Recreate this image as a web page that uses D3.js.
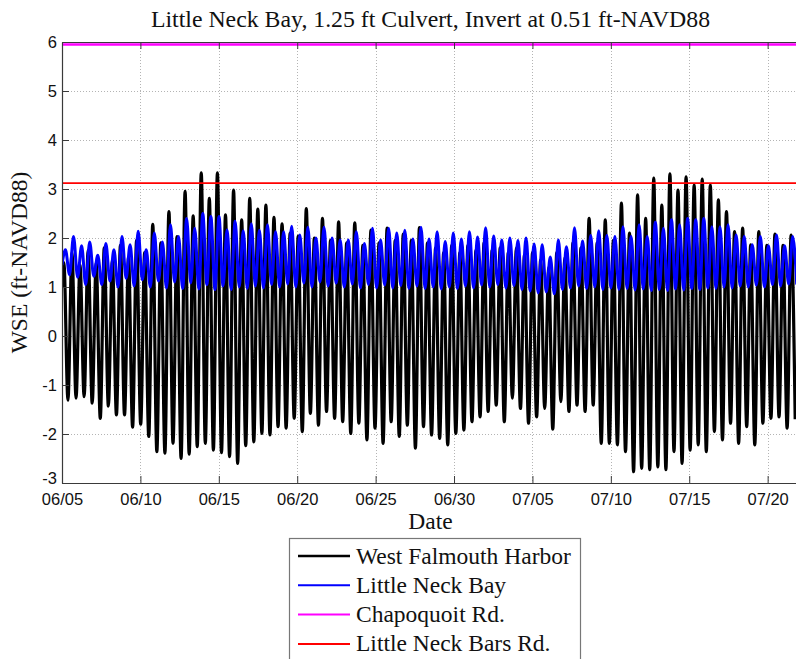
<!DOCTYPE html>
<html>
<head>
<meta charset="utf-8">
<script src="https://cdn.jsdelivr.net/npm/d3@7"></script>
<style>
  body { margin: 0; background: #fff; }
  svg { display: block; }
  .tick text { font-family: "Liberation Sans", Arial, sans-serif; font-size: 16.5px; fill: #111; }
</style>
</head>
<body>
<script>
// ---- Data -------------------------------------------------------------
// Record start and tidal cycle spacing (days)
const recordStart = "2010-06-05T00:00:00Z";
const cycleDays = 0.5153;

// West Falmouth Harbor: successive high and low water levels (ft-NAVD88)
const wfhStart = 1.0;
const wfhHigh = [
  1.5, 1.7, 1.45, 1.75, 1.5, 1.8, 1.55, 1.85, 1.6, 1.95, 1.7, 2.28, 1.9,
  2.54, 2.03, 2.95, 2.45, 3.33, 2.81, 3.33, 2.47, 2.98, 2.37, 2.81, 2.59, 2.67,
  2.42, 2.29, 2.1, 2.04, 2.6, 2.0, 2.4, 1.95, 2.33, 1.9, 2.31, 1.85, 2.16, 1.9,
  2.2, 1.95, 2.08, 1.95, 2.21, 1.9,
  1.8, 1.7, 1.85, 1.7, 1.85, 1.75, 1.9, 1.75, 1.8, 1.7, 1.8, 1.65, 1.7, 1.55,
  1.4, 1.7, 1.6, 1.9, 1.8,
  2.4, 1.9, 2.37, 1.95, 2.71, 2.1, 2.88, 2.4, 3.22, 2.67, 3.31, 2.98, 3.25, 3.08,
  3.2, 3.08, 2.78, 2.54, 2.13, 2.2, 1.86, 2.13, 1.85, 2.08, 1.85, 2.06
];
const wfhLow = [
  -1.31, -1.27, -1.24, -1.37, -1.68, -1.43, -1.61, -1.61, -1.86, -1.8,
  -2.05, -2.36, -2.39, -2.19, -2.5, -2.41, -2.26, -2.19, -2.33, -2.38,
  -2.46, -2.6, -2.24, -2.16, -1.99, -2.02, -1.85, -1.88, -1.68, -1.95,
  -1.58, -1.82, -1.54, -1.68, -1.75, -1.99, -1.78, -2.12, -1.88, -2.19,
  -1.75, -2.05, -1.82, -2.29, -1.85, -2.02, -2.09, -2.22, -1.99, -1.92,
  -1.75, -1.65, -1.54, -1.41, -1.75, -1.27, -1.48, -1.78, -1.65, -1.48,
  -1.9, -1.34, -1.54, -1.41, -1.54, -1.41, -2.19, -2.19, -2.22, -2.36,
  -2.77, -2.7, -2.73, -2.67, -2.73, -2.36, -2.6, -2.33, -2.22, -2.36,
  -1.95, -2.12, -1.78, -2.19, -1.85, -2.22, -1.78, -1.68, -1.65, -1.88,
  -1.7
];

// Little Neck Bay: successive high and low water levels (ft-NAVD88)
const lnbStart = 1.45;
const lnbHigh = [
  1.76, 2.03, 1.84, 1.92, 1.65, 1.89, 1.76, 2.03, 1.86, 2.14, 1.76, 2.1, 1.92,
  2.27, 2.03, 2.4, 2.2, 2.5, 2.44, 2.44, 2.17, 2.34, 2.15,
  2.29, 2.16, 2.27, 2.13, 2.13, 2.24, 2.06, 2.22, 2.0, 2.22, 2.0, 1.96, 1.96,
  2.13, 1.89, 2.2, 1.96, 2.2, 2.1, 2.16, 1.98, 2.22, 1.98,
  2.13, 1.93, 2.1, 1.98, 2.13, 2.02, 2.21, 2.04, 1.96, 2.0, 1.95, 2.0, 1.88,
  1.86, 1.61, 1.96, 1.82, 2.21, 1.94, 2.05, 2.15, 2.05,
  2.03, 2.23, 2.03, 2.27, 2.03, 2.32, 2.2, 2.37, 2.27, 2.4, 2.37, 2.4, 2.23,
  2.23, 2.27, 2.06, 2.03, 1.86, 2.03, 1.84, 2.06, 1.84, 2.03
];
const lnbLow = [
  1.25, 1.2, 1.05, 1.22, 1.05, 1.12, 1.0, 1.18, 1.02, 1.15,
  1.0, 1.12, 0.98, 1.1, 0.97, 1.08, 0.96, 1.05, 0.95, 1.02,
  0.95, 1.0, 0.97, 1.02, 0.98, 1.05, 1.0, 1.06, 1.0, 1.08,
  1.0, 1.1, 1.02, 1.08, 1.0, 1.06, 0.98, 1.05, 0.98, 1.04,
  0.98, 1.03, 0.97, 1.02, 0.97, 1.0, 0.96, 1.0, 0.97, 1.02,
  0.98, 1.04, 1.0, 1.05, 0.98, 1.03, 0.95, 0.92, 0.88, 0.9,
  0.86, 0.95, 0.98, 1.02, 0.97, 1.0, 0.95, 0.98, 0.95, 0.97,
  0.94, 0.96, 0.93, 0.95, 0.93, 0.96, 0.94, 0.97, 0.95, 0.98,
  0.97, 1.0, 0.98, 1.02, 1.0, 1.04, 1.0, 1.05, 1.02, 1.06,
  1.05
];

// Road elevations (ft-NAVD88)
const chapoquoitRd = 5.95;
const littleNeckBarsRd = 3.12;

// Axis ticks
const dateTicks = ["06/05", "06/10", "06/15", "06/20", "06/25", "06/30", "07/05", "07/10", "07/15", "07/20"];
const wseTicks = [-3, -2, -1, 0, 1, 2, 3, 4, 5, 6];

const seriesNames = ["West Falmouth Harbor", "Little Neck Bay", "Chapoquoit Rd.", "Little Neck Bars Rd."];
const seriesColors = ["#000000", "#0000ff", "#ff00ff", "#ff0000"];

// ---- Layout -----------------------------------------------------------
const W = 796, H = 659;
const plotL = 62, plotR = 799, plotT = 42, plotB = 483;

const t0 = new Date(recordStart);
const dayMs = 864e5;
const atDay = d => new Date(t0.getTime() + d * dayMs);
const parseTick = s => new Date(Date.UTC(2010, +s.slice(0, 2) - 1, +s.slice(3, 5)));

const x = d3.scaleUtc().domain([t0, parseTick("07/22")]).range([plotL, plotR]);
const y = d3.scaleLinear().domain([-3, 6]).range([plotB, plotT]);

// Alternate highs and lows into one time series
function tideSeries(start, highs, lows, firstHigh, lowOffset) {
  const pts = [{ t: atDay(0), v: start }];
  highs.forEach((h, i) => {
    pts.push({ t: atDay(firstHigh + i * cycleDays), v: h });
    if (i < lows.length) pts.push({ t: atDay(firstHigh + lowOffset + i * cycleDays), v: lows[i] });
  });
  return pts;
}
const wfh = tideSeries(wfhStart, wfhHigh, wfhLow, 0.12, 0.26);
const lnb = tideSeries(lnbStart, lnbHigh, lnbLow, 0.22, 0.26);

const svg = d3.select("body").append("svg").attr("width", W).attr("height", H);

// Grid
const grid = svg.append("g").attr("stroke", "#b4b4b4").attr("stroke-width", 1).attr("stroke-dasharray", "1,2");
dateTicks.forEach(s => {
  const gxp = Math.round(x(parseTick(s))) + 0.5;
  grid.append("line").attr("x1", gxp).attr("x2", gxp).attr("y1", plotT).attr("y2", plotB);
});
wseTicks.forEach(v => {
  const gyp = Math.round(y(v)) + 0.5;
  grid.append("line").attr("x1", plotL).attr("x2", plotR).attr("y1", gyp).attr("y2", gyp);
});

// Plot clip
svg.append("clipPath").attr("id", "plot").append("rect")
  .attr("x", plotL).attr("y", plotT).attr("width", plotR - plotL).attr("height", plotB - plotT);
const plot = svg.append("g").attr("clip-path", "url(#plot)");

const line = d3.line().x(d => x(d.t)).y(d => y(d.v)).curve(d3.curveMonotoneX);

plot.append("path").datum(wfh).attr("d", line)
  .attr("fill", "none").attr("stroke", seriesColors[0]).attr("stroke-width", 3.2).attr("stroke-linejoin", "round");
plot.append("path").datum(lnb).attr("d", line)
  .attr("fill", "none").attr("stroke", seriesColors[1]).attr("stroke-width", 3.0).attr("stroke-linejoin", "round");

const flat = v => [{ t: x.domain()[0], v }, { t: x.domain()[1], v }];
plot.append("path").datum(flat(chapoquoitRd)).attr("d", line)
  .attr("fill", "none").attr("stroke", seriesColors[2]).attr("stroke-width", 2.4);
plot.append("path").datum(flat(littleNeckBarsRd)).attr("d", line)
  .attr("fill", "none").attr("stroke", seriesColors[3]).attr("stroke-width", 1.8);

// Axes
const fmt = d3.utcFormat("%m/%d");
const xAxis = d3.axisBottom(x).tickValues(dateTicks.map(parseTick)).tickFormat(fmt)
  .tickSizeInner(-7).tickSizeOuter(0).tickPadding(10);
const gx = svg.append("g").attr("transform", `translate(0,${plotB})`).call(xAxis);
const xTop = d3.axisTop(x).tickValues(dateTicks.map(parseTick)).tickFormat("")
  .tickSizeInner(-7).tickSizeOuter(0);
const gxt = svg.append("g").attr("transform", `translate(0,${plotT})`).call(xTop);
const yAxis = d3.axisLeft(y).tickValues(wseTicks).tickFormat(d3.format("d"))
  .tickSizeInner(-7).tickSizeOuter(0).tickPadding(5);
const gy = svg.append("g").attr("transform", `translate(${plotL},0)`).call(yAxis);
[gx, gxt, gy].forEach(g => {
  g.select(".domain").attr("stroke", "#3a3a3a").attr("stroke-width", 1.2);
  g.selectAll(".tick line").attr("stroke", "#3a3a3a");
});
gy.selectAll(".tick text")
  .text(d => d < 0 ? "-" + Math.abs(d) : d)
  .attr("dy", d => d === -3 ? "0.05em" : "0.32em");

// Titles
const serif = '"Liberation Serif", "Times New Roman", serif';
svg.append("text").attr("x", (plotL + plotR) / 2).attr("y", 27).attr("text-anchor", "middle")
  .attr("font-family", serif).attr("font-size", 23.8).attr("fill", "#111")
  .text("Little Neck Bay, 1.25 ft Culvert, Invert at 0.51 ft-NAVD88");
svg.append("text").attr("x", (plotL + plotR) / 2).attr("y", 529).attr("text-anchor", "middle")
  .attr("font-family", serif).attr("font-size", 23.5).attr("fill", "#111").text("Date");
svg.append("text").attr("transform", `translate(27,${(plotT + plotB) / 2}) rotate(-90)`)
  .attr("text-anchor", "middle").attr("font-family", serif).attr("font-size", 23.5).attr("fill", "#111")
  .text("WSE (ft-NAVD88)");

// Legend
const lg = svg.append("g");
lg.append("rect").attr("x", 289.5).attr("y", 538.5).attr("width", 291).attr("height", 140)
  .attr("fill", "#fff").attr("stroke", "#777").attr("stroke-width", 1.2);
seriesNames.forEach((name, i) => {
  const ly = 556 + i * 29.3;
  lg.append("line").attr("x1", 298).attr("x2", 350).attr("y1", ly).attr("y2", ly)
    .attr("stroke", seriesColors[i]).attr("stroke-width", i === 0 ? 2.4 : 2);
  lg.append("text").attr("x", 356).attr("y", ly + 7.5)
    .attr("font-family", serif).attr("font-size", 23.5).attr("fill", "#111").text(name);
});
</script>
</body>
</html>
